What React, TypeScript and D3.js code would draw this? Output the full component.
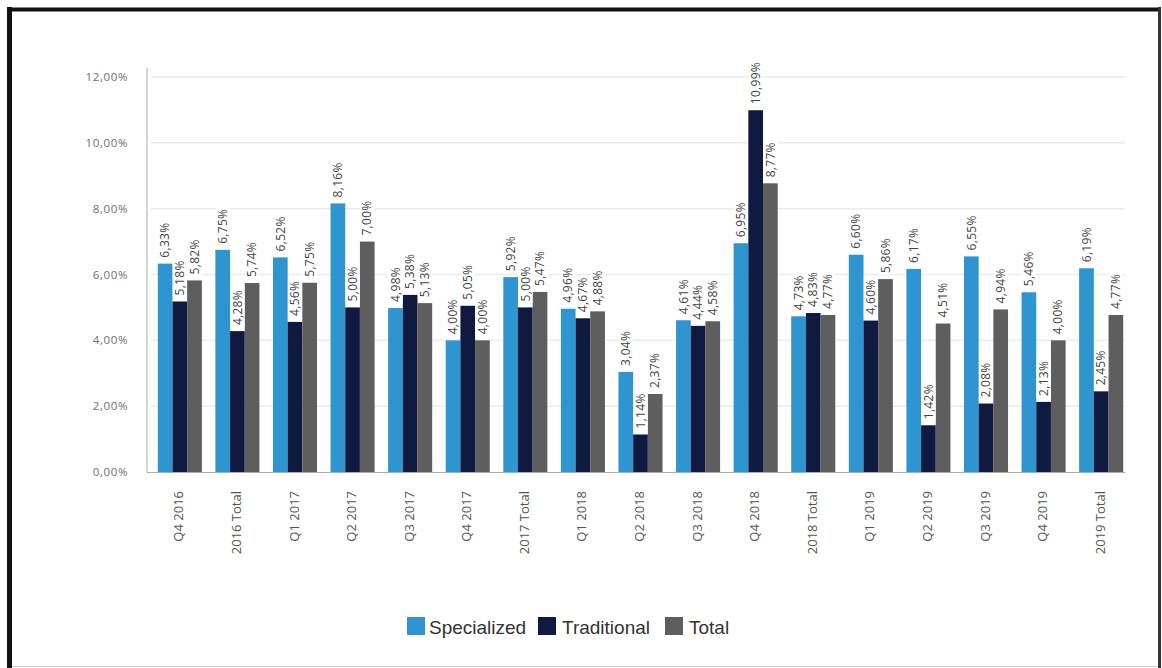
import React from 'react';
import * as d3 from 'd3';

const categories = ['Q4 2016', '2016 Total', 'Q1 2017', 'Q2 2017', 'Q3 2017', 'Q4 2017', '2017 Total', 'Q1 2018', 'Q2 2018', 'Q3 2018', 'Q4 2018', '2018 Total', 'Q1 2019', 'Q2 2019', 'Q3 2019', 'Q4 2019', '2019 Total'];
const specialized = [6.33, 6.75, 6.52, 8.16, 4.98, 4.0, 5.92, 4.96, 3.04, 4.61, 6.95, 4.73, 6.6, 6.17, 6.55, 5.46, 6.19];
const traditional = [5.18, 4.28, 4.56, 5.0, 5.38, 5.05, 5.0, 4.67, 1.14, 4.44, 10.99, 4.83, 4.6, 1.42, 2.08, 2.13, 2.45];
const total = [5.82, 5.74, 5.75, 7.0, 5.13, 4.0, 5.47, 4.88, 2.37, 4.58, 8.77, 4.77, 5.86, 4.51, 4.94, 4.0, 4.77];
const seriesNames = ['Specialized', 'Traditional', 'Total'];
const seriesColors = ['#2e95d1', '#101a40', '#5e5e5e'];
const yTicks = [0, 2, 4, 6, 8, 10, 12];

const W = 1162;
const H = 668;
const plotLeft = 147;
const plotRight = 1125;
const yTop = 77;
const yBottom = 472;

const fmt = (v: number) => d3.format('.2f')(v).replace('.', ',') + '%';

export default function App() {
  const seriesData = [specialized, traditional, total];
  const x0 = d3.scaleBand<string>().domain(categories).range([151, 1130]).paddingInner(0.235).paddingOuter(0.118);
  const x1 = d3.scaleBand<string>().domain(seriesNames).range([0, x0.bandwidth()]);
  const y = d3.scaleLinear().domain([0, 12]).range([yBottom, yTop]);
  const labelFont = 12;

  const bars: React.ReactNode[] = [];
  const labels: React.ReactNode[] = [];
  categories.forEach((c, i) => {
    seriesNames.forEach((s, k) => {
      const v = seriesData[k][i];
      const bx = (x0(c) || 0) + (x1(s) || 0);
      const bw = x1.bandwidth();
      const top = y(v);
      bars.push(
        <rect key={`b-${i}-${k}`} x={bx} y={top} width={bw} height={yBottom - top} fill={seriesColors[k]} />
      );
      const txt = fmt(v);
      const len = txt.length * 7.3;
      labels.push(
        <g key={`l-${i}-${k}`} transform={`translate(${bx + bw / 2},${top - 5}) rotate(-90)`}>
          <rect x={-1} y={-7} width={len + 3} height={14} fill="#fff" />
          <text x={1} y={0} dy="0.35em" fontSize={labelFont} fill="#444" letterSpacing={0.3} fontFamily="'Open Sans', sans-serif">
            {txt}
          </text>
        </g>
      );
    });
  });

  const legendItems = [
    { name: seriesNames[0], sx: 407, tx: 429 },
    { name: seriesNames[1], sx: 538, tx: 562 },
    { name: seriesNames[2], sx: 665, tx: 689 },
  ];

  return (
    <svg width={W} height={H} style={{ position: 'absolute', left: 0, top: 0, background: '#fff' }}>
      <rect x={0} y={0} width={W} height={H} fill="#fff" />
      {yTicks.filter((t) => t > 0).map((t) => (
        <line key={`g-${t}`} x1={plotLeft + 4} x2={plotRight} y1={y(t)} y2={y(t)} stroke="#ececec" strokeWidth={1.5} />
      ))}
      {yTicks.map((t) => (
        <text key={`yt-${t}`} x={128} y={y(t)} dy="0.35em" textAnchor="end" fontSize={11.5} fill="#6f6f6f" fontFamily="'Open Sans', sans-serif" letterSpacing={0.6}>
          {fmt(t)}
        </text>
      ))}
      {bars}
      <line x1={plotLeft} x2={plotLeft} y1={68} y2={yBottom} stroke="#aaa" strokeWidth={1} />
      <line x1={plotLeft} x2={plotRight} y1={yBottom + 0.5} y2={yBottom + 0.5} stroke="#aaa" strokeWidth={1} />
      {labels}
      {categories.map((c) => (
        <text
          key={`c-${c}`}
          transform={`translate(${(x0(c) || 0) + x0.bandwidth() / 2 - 1},${491}) rotate(-90)`}
          textAnchor="end"
          dy="0.35em"
          fontSize={13}
          fill="#555"
          fontFamily="'Open Sans', sans-serif"
        >
          {c}
        </text>
      ))}
      {legendItems.map((it, k) => (
        <g key={`lg-${k}`}>
          <rect x={it.sx} y={617} width={18} height={18} fill={seriesColors[k]} />
          <text x={it.tx} y={634} fontSize={19} fill="#333" fontFamily="'Liberation Sans', Arial, sans-serif">
            {it.name}
          </text>
        </g>
      ))}
      <line x1={7} x2={1161} y1={9.5} y2={9.5} stroke="#111" strokeWidth={4} />
      <line x1={9.5} x2={9.5} y1={7} y2={H} stroke="#111" strokeWidth={5} />
      <line x1={1159.5} x2={1159.5} y1={7} y2={H} stroke="#333" strokeWidth={3} />
      <line x1={12} x2={1158} y1={666.5} y2={666.5} stroke="#ccc" strokeWidth={1} />
    </svg>
  );
}
